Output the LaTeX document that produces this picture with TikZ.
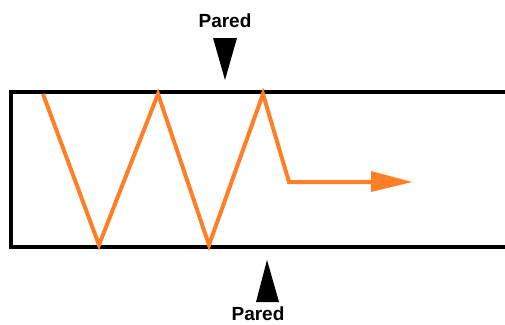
\documentclass[tikz,border=0pt]{standalone}
\usepackage{fontspec}
\setmainfont{Liberation Sans}
\definecolor{paintorange}{RGB}{255,127,39}
\begin{document}
\begin{tikzpicture}[x=1pt,y=-1pt,
  wall/.style={line width=4pt,black},
  zig/.style={line width=4pt,paintorange,line join=miter},
  marker/.style={fill=black,draw=none},
  lbl/.style={font=\bfseries\fontsize{19}{19}\selectfont,inner sep=0pt,anchor=base}]
\useasboundingbox (0,0) rectangle (505,324);
% channel walls (open at right)
\draw[wall] (506,92) -- (11,92) -- (11,247) -- (506,247);
% zigzag path
\coordinate (p0) at (43,94);
\coordinate (p1) at (99,245);
\coordinate (p2) at (158,94);
\coordinate (p3) at (209,245);
\coordinate (p4) at (263,94);
\coordinate (p5) at (289,182);
\coordinate (p6) at (374,182);
\coordinate (tip) at (412,182);
\draw[zig] (p0) -- (p1) -- (p2) -- (p3) -- (p4) -- (p5) -- (p6);
\fill[paintorange] (371,171) -- (tip) -- (371,192) -- cycle;
% wall markers
\fill[marker] (213,38) -- (237,38) -- (225,80) -- cycle;
\fill[marker] (256,302) -- (279,302) -- (267,260) -- cycle;
\node[lbl] (ltop) at (225,27) {Pared};
\node[lbl] (lbot) at (258,320.5) {Pared};
\end{tikzpicture}
\end{document}
